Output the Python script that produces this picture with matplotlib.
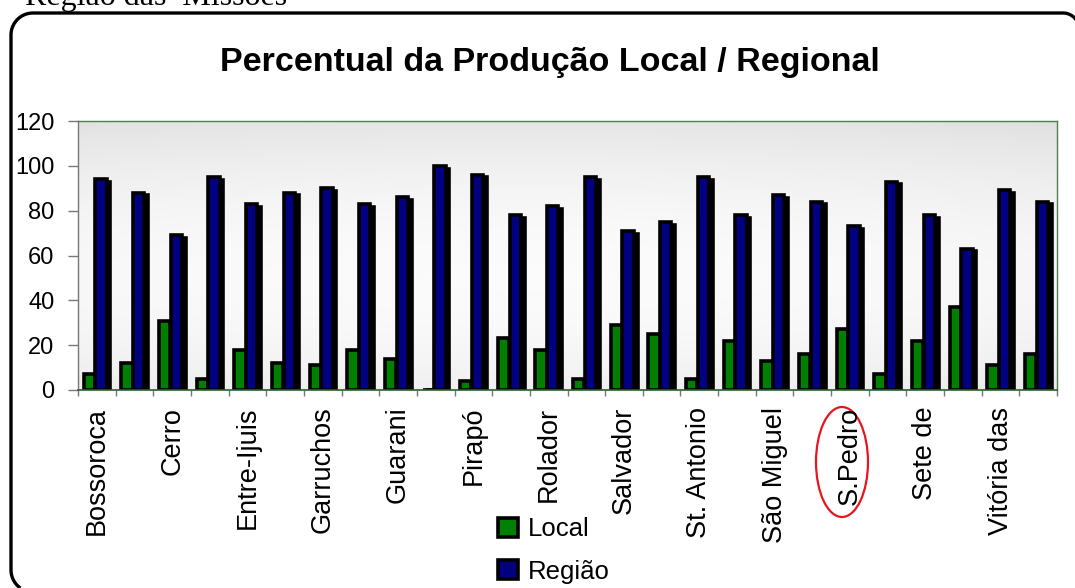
import numpy as np
import matplotlib
matplotlib.use("Agg")
import matplotlib.pyplot as plt
from matplotlib.patches import Ellipse, Patch

# ---------------- data ----------------
categories = ["Bossoroca", "", "Cerro", "", "Entre-Ijuis", "", "Garruchos", "",
              "Guarani", "", "Pirapó", "", "Rolador", "", "Salvador", "",
              "St. Antonio", "", "São Miguel", "", "S.Pedro", "", "Sete de", "",
              "Vitória das", ""]
local = [7, 12, 31, 5, 18, 12, 11, 18, 14, 0, 4, 23, 18, 5, 29, 25,
         5, 22, 13, 16, 27, 7, 22, 37, 11, 16]
regiao = [94, 88, 69, 95, 83, 88, 90, 83, 86, 100, 96, 78, 82, 95, 71, 75,
          95, 78, 87, 84, 73, 93, 78, 63, 89, 84]
yticks = [0, 20, 40, 60, 80, 100, 120]
title = "Percentual da Produção Local / Regional"
series_names = ["Local", "Região"]
header = "Região das  Missões"

W, H = 1075, 588
plt.rcParams['font.family'] = ['Liberation Sans', 'DejaVu Sans']
fig = plt.figure(figsize=(W / 100, H / 100), dpi=100)

# overlay axes in pixel coordinates (y downward)
ov = fig.add_axes([0, 0, 1, 1])
ov.set_xlim(0, W)
ov.set_ylim(H, 0)
ov.axis("off")

# rounded frame drawn as a single path
t = np.linspace(0, np.pi / 2, 30)
fx, fy = [], []
tb = np.linspace(np.arcsin(18 / 22), 0, 20)
fx += list(33 - 22 * np.cos(tb)); fy += list(570 + 22 * np.sin(tb))
fx += list(33 - 22 * np.cos(t)); fy += list(35 - 22 * np.sin(t))
fx += list(1063 + 16 * np.sin(t)); fy += list(29 - 16 * np.cos(t))
fx += [1079]; fy += [600]
ov.plot(fx, fy, color="black", linewidth=2.4, solid_capstyle="butt", clip_on=True)

ov.text(25, 5, header, family="Liberation Serif", fontsize=23,
        va="baseline", ha="left")
ov.text(550, 63, title, fontsize=24.5, fontweight="bold",
        ha="center", va="center")
ov.add_patch(Ellipse((842, 462), 52, 110, fill=False, edgecolor="#e8141e",
                     linewidth=1.6))

# main axes
x0, x1, ytop, ybot = 78, 1057, 121, 390
ax = fig.add_axes([x0 / W, 1 - ybot / H, (x1 - x0) / W, (ybot - ytop) / H])
n = len(categories)
ax.set_xlim(0, n)
ax.set_ylim(0, 120)
ax.set_facecolor("none")

# gradient background
xx, yy = np.meshgrid(np.linspace(0, 1, 200), np.linspace(0, 1, 200))
v = 0.985 - 0.085 * (((yy - 0.42) / 0.58) ** 2) - 0.02 * (((xx - 0.45) / 0.55) ** 2)
img = np.dstack([v, v, v])
ax.imshow(img, extent=[0, n, 0, 120], aspect="auto", origin="lower", zorder=0)

idx = np.arange(n)
lw = 2.6
green = "#008000"
navy = "#000080"
ax.bar(idx + 0.25, np.maximum(np.array(local) - 1.2, 0), width=0.30, align="edge",
       color="black", edgecolor="black", linewidth=lw, zorder=2)
ax.bar(idx + 0.15, local, width=0.30, align="edge", color=green,
       edgecolor="black", linewidth=lw, zorder=3)
ax.bar(idx + 0.56, np.array(regiao) - 1.2, width=0.30, align="edge",
       color="black", edgecolor="black", linewidth=lw, zorder=4)
ax.bar(idx + 0.46, regiao, width=0.30, align="edge", color=navy,
       edgecolor="black", linewidth=lw, zorder=5)

# spines
for s in ["top", "right"]:
    ax.spines[s].set_color("#4f7f4f")
    ax.spines[s].set_linewidth(1.0)
ax.spines["bottom"].set_color("#2f5f2f")
ax.spines["bottom"].set_linewidth(1.2)
ax.spines["bottom"].set_zorder(6)
ax.spines["left"].set_color("#777777")
ax.spines["left"].set_linewidth(1.0)

ax.set_yticks(yticks)
ax.set_yticklabels([str(v_) for v_ in yticks], fontsize=17)
ax.tick_params(axis="y", length=7, width=1, color="#777777", pad=10)

ax.set_xticks(idx + 0.5)
ax.set_xticklabels(categories, rotation=90, fontsize=19.5, va="top")
ax.tick_params(axis="x", which="major", length=0, pad=12)
ax.set_xticks(np.arange(0, n + 1), minor=True)
ax.tick_params(axis="x", which="minor", length=4, width=1, color="#777777",
               direction="out")

handles = [Patch(facecolor=green, edgecolor="black", linewidth=2.6),
           Patch(facecolor=navy, edgecolor="black", linewidth=2.6)]
fig.legend(handles, series_names, loc="upper left",
           bbox_to_anchor=(488 / W, 1 - 507 / H), frameon=False,
           fontsize=18.5, handlelength=0.75, handleheight=0.75,
           handletextpad=0.4, labelspacing=0.72, borderaxespad=0)

fig.savefig("out.png", dpi=100)
